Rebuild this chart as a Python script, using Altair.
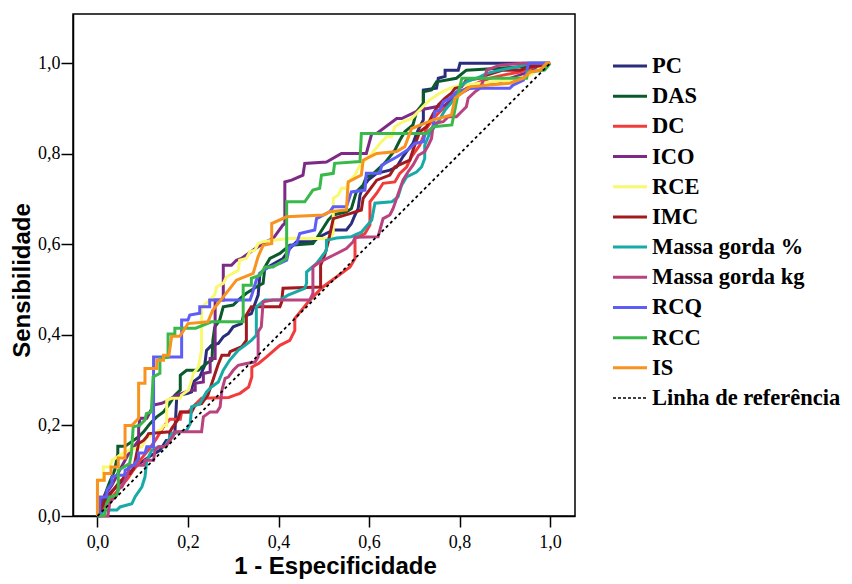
import altair as alt
import pandas as pd

SERIES = ["PC", "DAS", "DC", "ICO", "RCE", "IMC", "Massa gorda %", "Massa gorda kg", "RCQ", "RCC", "IS"]
COLORS = ["#2a2d7c", "#0b5a2c", "#f23c3c", "#7d2a86", "#f9f871", "#a31a1e",
          "#17aaa7", "#b9437f", "#5e5ef7", "#38b94a", "#f7931e"]
REF_LABEL = "Linha de referência"
TICKS = [0.0, 0.2, 0.4, 0.6, 0.8, 1.0]

PC = [(0,0),(0.005,0.017),(0.016,0.035),(0.027,0.050),(0.045,0.068),(0.060,0.083),(0.076,0.101),
      (0.093,0.116),(0.116,0.132),(0.138,0.145),(0.152,0.167),(0.160,0.167),(0.160,0.183),(0.171,0.183),
      (0.175,0.260),(0.182,0.267),(0.200,0.271),(0.208,0.274),(0.211,0.296),(0.226,0.307),(0.237,0.333),
      (0.241,0.366),(0.252,0.377),(0.267,0.381),(0.278,0.396),(0.289,0.403),(0.300,0.418),(0.318,0.425),
      (0.322,0.440),(0.340,0.447),(0.348,0.469),(0.355,0.488),(0.359,0.536),(0.377,0.550),(0.396,0.561),
      (0.410,0.569),(0.425,0.591),(0.440,0.606),(0.476,0.606),(0.491,0.617),(0.521,0.632),(0.550,0.632),
      (0.561,0.646),(0.569,0.665),(0.576,0.679),(0.580,0.709),(0.587,0.727),(0.598,0.742),(0.617,0.757),
      (0.646,0.764),(0.661,0.771),(0.675,0.794),(0.683,0.805),(0.697,0.823),(0.705,0.845),(0.712,0.860),
      (0.720,0.875),(0.720,0.941),(0.749,0.945),(0.753,0.967),(0.768,0.971),(0.768,0.985),(0.797,0.985),
      (0.801,1.0),(1.0,1.0)]

DAS = [(0,0),(0.010,0.024),(0.016,0.046),(0.027,0.075),(0.038,0.101),(0.045,0.138),(0.045,0.154),
       (0.061,0.154),(0.071,0.161),(0.091,0.175),(0.102,0.186),(0.116,0.204),(0.131,0.219),(0.146,0.230),
       (0.157,0.245),(0.171,0.267),(0.183,0.278),(0.183,0.311),(0.197,0.322),(0.223,0.322),(0.242,0.338),
       (0.253,0.344),(0.255,0.388),(0.259,0.417),(0.270,0.433),(0.278,0.462),(0.300,0.466),(0.311,0.477),
       (0.329,0.492),(0.351,0.506),(0.366,0.514),(0.370,0.550),(0.381,0.569),(0.403,0.580),(0.425,0.598),
       (0.476,0.602),(0.484,0.613),(0.510,0.654),(0.521,0.665),(0.550,0.672),(0.561,0.679),(0.572,0.716),
       (0.587,0.731),(0.594,0.749),(0.606,0.753),(0.635,0.780),(0.657,0.808),(0.668,0.830),(0.679,0.849),
       (0.697,0.864),(0.705,0.893),(0.720,0.912),(0.720,0.937),(0.738,0.941),(0.749,0.959),(0.793,0.967),
       (0.815,0.985),(0.889,0.989),(0.977,0.996),(1,1)]

DC = [(0,0),(0.016,0.024),(0.032,0.041),(0.049,0.061),(0.067,0.083),(0.082,0.105),(0.098,0.128),
      (0.116,0.150),(0.131,0.172),(0.144,0.194),(0.160,0.214),(0.183,0.214),(0.186,0.230),(0.201,0.230),
      (0.215,0.245),(0.230,0.260),(0.290,0.262),(0.304,0.267),(0.315,0.271),(0.334,0.285),(0.341,0.307),
      (0.341,0.329),(0.356,0.337),(0.373,0.351),(0.403,0.377),(0.425,0.388),(0.436,0.410),(0.436,0.436),
      (0.447,0.450),(0.469,0.477),(0.498,0.506),(0.528,0.528),(0.558,0.550),(0.569,0.569),(0.569,0.613),
      (0.591,0.624),(0.602,0.643),(0.602,0.694),(0.617,0.713),(0.631,0.735),(0.657,0.738),(0.668,0.757),
      (0.683,0.771),(0.694,0.794),(0.712,0.819),(0.727,0.856),(0.742,0.878),(0.764,0.901),(0.793,0.930),
      (0.815,0.945),(0.845,0.959),(0.867,0.967),(0.896,0.974),(0.933,0.981),(0.955,0.989),(0.985,0.996),(1,1)]

ICO = [(0,0),(0.005,0.024),(0.016,0.046),(0.032,0.068),(0.049,0.101),(0.067,0.134),(0.091,0.167),
       (0.091,0.194),(0.094,0.216),(0.109,0.216),(0.124,0.245),(0.142,0.249),(0.149,0.252),(0.171,0.265),
       (0.193,0.273),(0.205,0.278),(0.216,0.278),(0.216,0.293),(0.234,0.296),(0.234,0.315),(0.249,0.318),
       (0.249,0.348),(0.260,0.348),(0.260,0.477),(0.278,0.477),(0.278,0.554),(0.296,0.554),(0.307,0.565),
       (0.318,0.569),(0.355,0.595),(0.373,0.606),(0.388,0.613),(0.396,0.624),(0.410,0.643),(0.414,0.646),
       (0.414,0.738),(0.429,0.742),(0.454,0.753),(0.458,0.779),(0.506,0.782),(0.539,0.801),(0.594,0.801),
       (0.606,0.845),(0.617,0.845),(0.661,0.878),(0.672,0.878),(0.712,0.897),(0.768,0.908),(0.796,0.930),
       (0.823,0.945),(0.889,0.959),(0.933,0.974),(0.978,0.990),(1,1)]

RCE = [(0,0),(0,0.068),(0,0.079),(0.013,0.079),(0.013,0.108),(0.028,0.108),(0.032,0.123),(0.039,0.127),
       (0.049,0.134),(0.071,0.146),(0.098,0.153),(0.109,0.175),(0.120,0.178),(0.131,0.186),(0.142,0.193),
       (0.146,0.200),(0.153,0.200),(0.153,0.256),(0.164,0.260),(0.183,0.260),(0.186,0.267),(0.201,0.278),
       (0.208,0.300),(0.212,0.315),(0.223,0.329),(0.230,0.366),(0.230,0.462),(0.244,0.473),(0.259,0.488),
       (0.263,0.506),(0.278,0.514),(0.285,0.528),(0.311,0.543),(0.314,0.565),(0.329,0.569),(0.337,0.584),
       (0.348,0.587),(0.355,0.602),(0.366,0.606),(0.388,0.609),(0.425,0.613),(0.513,0.613),(0.521,0.624),
       (0.521,0.702),(0.532,0.709),(0.539,0.724),(0.550,0.724),(0.554,0.738),(0.569,0.753),(0.580,0.775),
       (0.602,0.796),(0.624,0.823),(0.639,0.838),(0.650,0.838),(0.657,0.860),(0.675,0.871),(0.695,0.879),
       (0.712,0.897),(0.734,0.919),(0.756,0.934),(0.779,0.945),(0.801,0.951),(0.845,0.956),(0.911,0.963),
       (0.956,0.974),(0.978,0.990),(1,1)]

IMC = [(0,0),(0.012,0.024),(0.027,0.046),(0.038,0.061),(0.046,0.072),(0.057,0.083),(0.061,0.094),
       (0.072,0.094),(0.080,0.105),(0.091,0.160),(0.102,0.167),(0.109,0.175),(0.113,0.182),(0.160,0.186),
       (0.164,0.193),(0.177,0.212),(0.183,0.230),(0.208,0.230),(0.216,0.245),(0.230,0.248),(0.244,0.267),
       (0.255,0.300),(0.266,0.333),(0.275,0.355),(0.290,0.355),(0.293,0.363),(0.319,0.374),(0.329,0.388),
       (0.329,0.444),(0.340,0.462),(0.403,0.462),(0.407,0.473),(0.410,0.503),(0.493,0.506),(0.493,0.554),
       (0.502,0.576),(0.510,0.606),(0.521,0.657),(0.558,0.668),(0.583,0.676),(0.587,0.702),(0.606,0.727),
       (0.617,0.742),(0.646,0.753),(0.657,0.771),(0.690,0.786),(0.697,0.808),(0.712,0.849),(0.727,0.860),
       (0.742,0.889),(0.753,0.908),(0.768,0.923),(0.782,0.934),(0.790,0.945),(0.804,0.948),(0.815,0.963),
       (0.845,0.967),(0.860,0.974),(0.896,0.985),(0.933,0.985),(0.955,0.992),(0.992,0.996),(1,1)]

MG_PCT = [(0,0),(0.017,0.013),(0.043,0.013),(0.050,0.020),(0.076,0.027),(0.083,0.042),(0.098,0.064),
          (0.105,0.086),(0.109,0.123),(0.120,0.145),(0.135,0.153),(0.149,0.153),(0.157,0.167),(0.164,0.182),
          (0.197,0.189),(0.205,0.204),(0.208,0.241),(0.226,0.248),(0.241,0.274),(0.252,0.285),(0.267,0.296),
          (0.278,0.322),(0.292,0.344),(0.311,0.366),(0.326,0.377),(0.340,0.388),(0.351,0.399),(0.351,0.462),
          (0.370,0.477),(0.403,0.477),(0.421,0.488),(0.458,0.503),(0.462,0.514),(0.462,0.539),(0.484,0.558),
          (0.506,0.587),(0.506,0.609),(0.528,0.614),(0.561,0.617),(0.583,0.627),(0.606,0.654),(0.613,0.691),
          (0.650,0.694),(0.664,0.705),(0.672,0.731),(0.683,0.749),(0.705,0.760),(0.716,0.771),(0.723,0.790),
          (0.723,0.819),(0.734,0.845),(0.753,0.871),(0.768,0.897),(0.790,0.923),(0.801,0.948),(0.815,0.959),
          (0.845,0.970),(0.860,0.978),(0.889,0.985),(0.926,0.992),(0.955,1.0),(1,1)]

MG_KG = [(0,0),(0.023,0),(0.027,0.028),(0.032,0.035),(0.043,0.046),(0.046,0.061),(0.054,0.064),
         (0.061,0.079),(0.069,0.101),(0.069,0.112),(0.102,0.112),(0.105,0.123),(0.124,0.123),(0.127,0.145),
         (0.135,0.153),(0.146,0.153),(0.153,0.156),(0.160,0.167),(0.168,0.178),(0.171,0.186),(0.230,0.186),
         (0.234,0.219),(0.249,0.230),(0.264,0.230),(0.271,0.241),(0.275,0.278),(0.282,0.304),(0.289,0.307),
         (0.300,0.322),(0.311,0.333),(0.329,0.337),(0.348,0.340),(0.355,0.351),(0.355,0.407),(0.362,0.418),
         (0.366,0.473),(0.388,0.477),(0.469,0.477),(0.476,0.492),(0.476,0.550),(0.491,0.561),(0.521,0.576),
         (0.550,0.591),(0.565,0.606),(0.569,0.616),(0.620,0.617),(0.631,0.657),(0.646,0.665),(0.653,0.679),
         (0.661,0.702),(0.675,0.742),(0.686,0.760),(0.697,0.775),(0.709,0.797),(0.723,0.805),(0.731,0.819),
         (0.738,0.834),(0.742,0.867),(0.764,0.871),(0.775,0.882),(0.793,0.882),(0.804,0.893),(0.815,0.904),
         (0.819,0.923),(0.834,0.937),(0.845,0.945),(0.856,0.970),(0.860,0.985),(0.889,0.996),(0.941,1.0),(1,1)]

RCQ = [(0,0),(0.005,0),(0.005,0.042),(0.021,0.042),(0.021,0.057),(0.032,0.072),(0.032,0.086),(0.043,0.090),
       (0.061,0.090),(0.061,0.101),(0.080,0.112),(0.091,0.127),(0.091,0.139),(0.105,0.139),(0.109,0.153),
       (0.124,0.153),(0.124,0.351),(0.186,0.351),(0.186,0.433),(0.200,0.433),(0.204,0.444),(0.226,0.448),
       (0.226,0.462),(0.248,0.462),(0.248,0.477),(0.337,0.477),(0.341,0.488),(0.351,0.521),(0.359,0.536),
       (0.373,0.547),(0.403,0.558),(0.418,0.565),(0.425,0.595),(0.440,0.602),(0.447,0.624),(0.480,0.632),
       (0.484,0.657),(0.513,0.672),(0.521,0.683),(0.550,0.683),(0.561,0.716),(0.591,0.720),(0.594,0.757),
       (0.624,0.757),(0.628,0.775),(0.661,0.793),(0.690,0.812),(0.701,0.823),(0.720,0.827),(0.723,0.842),
       (0.742,0.860),(0.745,0.893),(0.756,0.897),(0.764,0.915),(0.779,0.923),(0.793,0.937),(0.823,0.945),
       (0.911,0.945),(0.918,0.952),(0.941,0.963),(0.948,0.981),(0.952,1.0),(1,1)]

RCC = [(0,0),(0.016,0.002),(0.020,0.027),(0.027,0.042),(0.042,0.046),(0.046,0.057),(0.046,0.101),
       (0.053,0.105),(0.071,0.116),(0.075,0.138),(0.079,0.197),(0.093,0.200),(0.105,0.212),(0.108,0.226),
       (0.119,0.230),(0.123,0.307),(0.138,0.315),(0.138,0.348),(0.156,0.351),(0.156,0.402),(0.171,0.402),
       (0.171,0.415),(0.217,0.415),(0.252,0.429),(0.322,0.429),(0.322,0.510),(0.340,0.510),(0.340,0.525),
       (0.359,0.532),(0.370,0.550),(0.388,0.550),(0.418,0.569),(0.418,0.694),(0.458,0.694),(0.476,0.720),
       (0.491,0.724),(0.495,0.753),(0.521,0.757),(0.524,0.779),(0.580,0.783),(0.583,0.845),(0.727,0.845),
       (0.742,0.860),(0.783,0.864),(0.794,0.919),(0.805,0.967),(0.948,0.967),(0.951,0.981),(0.988,0.985),(1,1)]

IS = [(0,0),(0,0.079),(0.015,0.079),(0.015,0.094),(0.030,0.094),(0.030,0.108),(0.046,0.108),(0.046,0.128),
      (0.061,0.128),(0.061,0.200),(0.076,0.200),(0.091,0.216),(0.091,0.293),(0.105,0.293),(0.105,0.326),
      (0.131,0.326),(0.131,0.344),(0.146,0.344),(0.146,0.355),(0.158,0.355),(0.164,0.397),(0.182,0.397),
      (0.200,0.425),(0.244,0.429),(0.255,0.455),(0.278,0.484),(0.307,0.521),(0.344,0.536),(0.355,0.573),
      (0.366,0.598),(0.385,0.602),(0.385,0.646),(0.418,0.661),(0.499,0.665),(0.513,0.672),(0.550,0.676),
      (0.554,0.738),(0.583,0.753),(0.587,0.786),(0.617,0.801),(0.661,0.805),(0.679,0.816),(0.694,0.856),
      (0.742,0.875),(0.782,0.886),(0.790,0.923),(0.823,0.948),(0.911,0.956),(0.941,0.967),(0.956,0.981),
      (0.978,0.985),(0.992,1.0),(1,1)]

REFERENCE = [(0, 0), (1, 1)]

CURVES = {"PC": PC, "DAS": DAS, "DC": DC, "ICO": ICO, "RCE": RCE, "IMC": IMC,
          "Massa gorda %": MG_PCT, "Massa gorda kg": MG_KG, "RCQ": RCQ, "RCC": RCC, "IS": IS}

label_expr = "replace(format(datum.value, '.1f'), '.', ',')"

X = alt.X("fpr:Q",
          scale=alt.Scale(domain=[-0.054, 1.055], nice=False, zero=False),
          axis=alt.Axis(values=TICKS, labelExpr=label_expr, grid=False,
                        title="1 - Especificidade", titleX=262, titleY=50,
                        titleBaseline="middle", titleAlign="center",
                        tickSize=11, labelPadding=6))
Y = alt.Y("tpr:Q",
          scale=alt.Scale(domain=[0, 1.109], nice=False, zero=False),
          axis=alt.Axis(values=TICKS, labelExpr=label_expr, grid=False,
                        title="Sensibilidade", titleX=-51, titleY=266, titleAngle=-90,
                        titleBaseline="middle", titleAlign="center",
                        tickSize=12, labelPadding=1))


def frame(points):
    return pd.DataFrame({"fpr": [p[0] for p in points],
                         "tpr": [p[1] for p in points],
                         "i": list(range(len(points)))})


curve_layers = []
for name, color in zip(SERIES, COLORS):
    curve_layers.append(
        alt.Chart(frame(CURVES[name])).mark_line(color=color, strokeWidth=3, strokeJoin="miter")
        .encode(x=X, y=Y, order="i:Q")
    )

ref_layer = alt.Chart(frame(REFERENCE)).mark_line(
    color="black", strokeWidth=1.8, strokeDash=[3, 3]
).encode(x=X, y=Y, order="i:Q")

main = alt.layer(*curve_layers, ref_layer)

# legend
leg_names = SERIES + [REF_LABEL]
leg_df = pd.DataFrame({"name": leg_names, "row": list(range(len(leg_names)))})
LY = alt.Y("row:Q", scale=alt.Scale(domain=[0, 11], range=[52, 384]), axis=None)
color_scale = alt.Scale(domain=SERIES, range=COLORS)

leg_lines = alt.Chart(leg_df).transform_filter(
    alt.FieldOneOfPredicate(field="name", oneOf=SERIES)
).mark_rule(strokeWidth=3).encode(
    y=LY, x=alt.value(540), x2=alt.value(574),
    color=alt.Color("name:N", scale=color_scale, legend=None)
)
leg_ref = alt.Chart(leg_df).transform_filter(
    alt.FieldEqualPredicate(field="name", equal=REF_LABEL)
).mark_rule(strokeWidth=1.5, strokeDash=[3, 2], color="black").encode(
    y=LY, x=alt.value(540), x2=alt.value(574)
)
leg_text = alt.Chart(leg_df).mark_text(
    align="left", baseline="middle", font="Liberation Serif", fontSize=22.5,
    fontWeight="bold", color="black"
).encode(y=LY, x=alt.value(579), text="name:N")

legend = alt.layer(leg_lines, leg_ref, leg_text)

chart = alt.layer(main, legend).resolve_scale(y="independent").properties(
    width=502, height=502,
    autosize=alt.AutoSizeParams(type="none"),
    padding={"left": 65, "top": 6, "right": 269, "bottom": 66},
).configure_view(
    stroke="black", strokeWidth=1.5
).configure_axis(
    labelFont="Liberation Serif", labelFontSize=18, labelColor="black",
    titleFont="Liberation Sans", titleFontSize=24, titleFontWeight="bold", titleColor="black",
    domainColor="black", domainWidth=1.5, tickColor="black", tickWidth=1.5
)

chart.save("out.html", embed_options={"renderer": "svg", "actions": False})
